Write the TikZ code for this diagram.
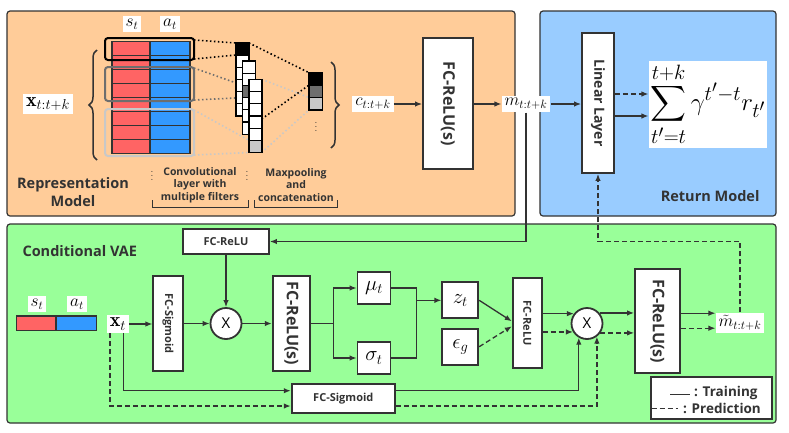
\documentclass[tikz,border=0pt]{standalone}
\usepackage{exscale}
\usepackage{fontspec}
\setsansfont{Open Sans}
\usepackage{graphicx}
\usetikzlibrary{arrows.meta,decorations.pathreplacing}

\definecolor{repbg}{HTML}{FFCC99}
\definecolor{retbg}{HTML}{99CCFF}
\definecolor{vaebg}{HTML}{99FF99}
\definecolor{sred}{HTML}{FF6464}
\definecolor{ablue}{HTML}{3399FF}
\definecolor{ink}{HTML}{333333}
\definecolor{midgray}{HTML}{6E6E6E}
\definecolor{lightgray2}{HTML}{C8C8C8}

\tikzset{
  panel/.style={draw=ink, line width=1.2pt, rounded corners=3pt},
  layer/.style={draw=ink, fill=white, line width=1.8pt, inner sep=0pt, text=ink,
    font=\sffamily\bfseries\fontsize{16}{18}\selectfont},
  smalllayer/.style={layer, font=\sffamily\bfseries\fontsize{11}{13}\selectfont},
  varbox/.style={draw=ink, fill=white, line width=1.8pt, inner sep=0pt,
    minimum width=33pt, minimum height=32pt, font=\fontsize{20}{22}\selectfont},
  mathlabel/.style={fill=white, inner sep=3pt, font=\fontsize{18}{20}\selectfont},
  title/.style={text=ink, font=\sffamily\bfseries\fontsize{14.5}{18}\selectfont},
  note/.style={text=ink, align=center, font=\sffamily\bfseries\fontsize{10.5}{12.5}\selectfont},
  mult/.style={circle, draw=ink, fill=white, line width=1.8pt, minimum size=31pt,
    inner sep=0pt, font=\sffamily\fontsize{15}{15}\selectfont},
  wire/.style={draw=ink, line width=1.3pt},
  conn/.style={wire, ->},
  predline/.style={wire, dash pattern=on 5pt off 3pt},
  pred/.style={predline, ->},
  cellline/.style={draw=ink, line width=1.2pt},
  cell/.style={draw=black, fill=white, line width=1.2pt},
  window/.style={line width=2pt, rounded corners=3pt},
  dotlink/.style={line width=1.6pt, dash pattern=on 1.5pt off 2.5pt},
}

\begin{document}
\begin{tikzpicture}[x=1pt, y=-1pt, >={Latex[length=7pt,width=5.5pt]}]
  \useasboundingbox (0,0) rectangle (789,432);

  % Panels
  \draw[panel, fill=repbg] (7,11) rectangle (515,216);
  \draw[panel, fill=retbg] (540,11) rectangle (776,216);
  \draw[panel, fill=vaebg] (7,224) rectangle (776,423);

  % Representation model: input sequence
  \foreach \i in {0,...,7} {
    \draw[cellline, fill=sred] (112,41.5+14*\i) rectangle (150,55.5+14*\i);
    \draw[cellline, fill=ablue] (150,41.5+14*\i) rectangle (190,55.5+14*\i);
  }
  \node[mathlabel] (stop) at (132,24) {$s_t$};
  \node[mathlabel] (atop) at (170,24) {$a_t$};

  % Filter windows
  \draw[window, draw=black] (105,38) rectangle (194,60);
  \draw[window, draw=midgray] (105,67) rectangle (194,101);
  \draw[window, draw=lightgray2] (105,109) rectangle (194,156);

  % Dotted links (behind the feature maps)
  \draw[dotlink, black] (194,40) -- (236,43) (194,59) -- (236,55);
  \draw[dotlink, black] (249,43) -- (309,72.7) (261.7,119) -- (309,85.1);
  \draw[dotlink, midgray] (194,68) -- (243,85.4) (194,100) -- (243,97.6);
  \draw[dotlink, lightgray2] (194,110) -- (249,140.3) (194,155) -- (249,152.5);
  \draw[dotlink, lightgray2] (261.7,79.3) -- (309,97.5) (261.7,152.5) -- (309,109.9);

  % Feature maps, one column per filter
  \foreach \k/\hot/\shade in {0/0/black, 1/2/midgray, 2/5/lightgray2} {
    \foreach \j in {0,...,5}
      \draw[cell] ({236+6.5*\k},{42.7+18.3*\k+12.2*\j}) rectangle ++(13,12.2);
    \draw[cell, fill=\shade] ({236+6.5*\k},{42.7+18.3*\k+12.2*\hot}) rectangle ++(13,12.2);
  }

  % Max pooling output
  \foreach \j/\shade in {0/black, 1/midgray, 2/lightgray2}
    \draw[cell, fill=\shade] (309,{72.7+12.4*\j}) rectangle ++(13.3,12.4);
  \node[text=ink, inner sep=0pt] (pooldots) at (316,124) {$\vdots$};

  % Braces
  \draw[wire, line width=1.5pt, decorate, decoration={brace, amplitude=8pt}] (97,160) -- (97,50);
  \draw[wire, line width=1.5pt, decorate, decoration={brace, amplitude=8pt}] (331,62) -- (331,148);
  \node[mathlabel, font=\fontsize{20}{22}\selectfont] (xseq) at (48,104) {$\mathbf{x}_{t:t+k}$};
  \node[mathlabel] (clab) at (373,104) {$c_{t:t+k}$};

  % Notes under the convolution
  \node[note] (convnote) at (200,185) {Convolutional\\layer with\\multiple filters};
  \node[note] (poolnote) at (296,185) {Maxpooling\\and\\concatenation};
  \node[text=ink, inner sep=0pt] (convdots) at (152,173) {$\vdots$};
  \node[text=ink, inner sep=0pt] (pooldiv) at (247,173) {$\vdots$};
  \draw[wire, line width=1pt] (152,200) |- (248,207) -- (248,200);
  \draw[wire, line width=1pt] (254,200) |- (337,207) -- (337,200);
  \node[title, align=center] (reptitle) at (73,192) {Representation\\Model};

  % Representation and return model layers
  \node[layer, minimum width=50pt, minimum height=131pt] (fcrtop) at (448,103.5) {\rotatebox{-90}{FC-ReLU(s)}};
  \node[mathlabel] (mlab) at (526,104) {$m_{t:t+k}$};
  \node[layer, font=\sffamily\bfseries\fontsize{14}{16}\selectfont, minimum width=32pt, minimum height=140pt] (lin) at (598,103) {\rotatebox{-90}{Linear Layer}};
  \node[fill=white, inner sep=2pt, font=\fontsize{24.88}{28}\selectfont] (ret) at (708,104.5) {$\displaystyle\sum_{t'=t}^{t+k}\gamma^{t'-t}r_{t'}$};
  \node[title, anchor=east] (rettitle) at (763,196) {Return Model};

  \draw[conn] (clab.east) -- (clab.east -| fcrtop.west);
  \draw[conn] (fcrtop.east |- mlab) -- (mlab.west);
  \draw[conn] (mlab.east) -- (mlab.east -| lin.west);
  \draw[pred] ([yshift=10.5pt]ret.west -| lin.east) -- ([yshift=10.5pt]ret.west);
  \draw[conn] ([yshift=-11.5pt]ret.west -| lin.east) -- ([yshift=-11.5pt]ret.west);

  % Conditional VAE
  \node[title, anchor=west] (vaetitle) at (19,251) {Conditional VAE};
  \draw[cellline, fill=sred] (16.7,316) rectangle (56,330.5);
  \draw[cellline, fill=ablue] (56,316) rectangle (96.7,330.5);
  \node[mathlabel] (sin) at (37,304) {$s_t$};
  \node[mathlabel] (ain) at (77,304) {$a_t$};
  \node[mathlabel, font=\fontsize{20}{22}\selectfont] (xt) at (118,324) {$\mathbf{x}_t$};

  \node[smalllayer, minimum width=86pt, minimum height=25pt] (fcrelu) at (226,241.5) {FC-ReLU};
  \node[smalllayer, minimum width=29.4pt, minimum height=95pt] (fcsig) at (168,323.5) {\rotatebox{-90}{FC-Sigmoid}};
  \node[mult] (mulin) at (226,323.5) {X};
  \node[layer, minimum width=37.3pt, minimum height=95.3pt] (encoder) at (291.3,323.3) {\rotatebox{-90}{FC-ReLU(s)}};
  \node[varbox] (mu) at (374,288) {$\mu_t$};
  \node[varbox] (sigma) at (374,358) {$\sigma_t$};
  \node[varbox, minimum width=36pt, minimum height=36pt] (z) at (460.3,300.3) {$z_t$};
  \node[varbox, minimum width=36pt, minimum height=36pt] (eps) at (460.3,346.7) {$\epsilon_g$};
  \node[smalllayer, minimum width=29pt, minimum height=90pt] (decoder) at (527.2,323.3) {\rotatebox{-90}{FC-ReLU}};
  \node[mult] (mulout) at (587,323.5) {X};
  \node[layer, minimum width=45pt, minimum height=104.3pt] (outlayer) at (657.5,321.2) {\rotatebox{-90}{FC-ReLU(s)}};
  \node[mathlabel] (mtil) at (740,323) {$\tilde{m}_{t:t+k}$};
  \node[smalllayer, minimum width=103.3pt, minimum height=28.4pt] (fcsigb) at (343.3,398.5) {FC-Sigmoid};

  % VAE connections
  \draw[conn] (xt.east) -- (xt.east -| fcsig.west);
  \draw[conn] (fcsig.east) -- (mulin.west);
  \draw[conn] (fcrelu.south) -- (mulin.north);
  \draw[conn] (mulin.east) -- (mulin.east -| encoder.west);
  \coordinate (split) at (333.3,323.3);
  \draw[wire] (encoder.east) -- (split);
  \draw[conn] (split) |- (mu.west);
  \draw[conn] (split) |- (sigma.west);
  \coordinate (merge) at (416.7,300.3);
  \draw[wire] (mu.east) -| (merge) |- (sigma.east);
  \draw[conn] (merge) -- (z.west);
  \draw[conn] (z.east) -- ([yshift=2pt]decoder.west);
  \draw[pred] (eps.east) -- ([yshift=-3pt]decoder.west);
  \draw[conn] (decoder.east |- mulout.143) -- (mulout.143);
  \draw[pred] (decoder.east |- mulout.211) -- (mulout.211);
  \draw[conn] (mulout.40) -- (mulout.40 -| outlayer.west);
  \draw[pred] (mulout.-35) -- (mulout.-35 -| outlayer.west);
  \draw[conn] ([yshift=8pt]outlayer.east) -- ([yshift=8pt]outlayer.east -| mtil.west);
  \draw[pred] ([yshift=-7pt]outlayer.east) -- ([yshift=-7pt]outlayer.east -| mtil.west);
  \draw[conn] ([xshift=5.3pt]xt.south) |- ([yshift=7.8pt]fcsigb.west);
  \draw[pred] ([xshift=-8pt]xt.south) |- ([yshift=-7.5pt]fcsigb.west);
  \draw[conn] ([yshift=7.8pt]fcsigb.east) -| (mulout.240);
  \draw[pred] ([yshift=-7.5pt]fcsigb.east) -| (mulout.307);

  % Links between the models
  \draw[conn] (mlab.south) |- (fcrelu.east);
  \draw[pred] (mtil.north) |- (lin.south |- fcrelu.east) -- (lin.south);

  % Legend
  \node[draw=ink, fill=white, line width=1.8pt, minimum width=121pt, minimum height=42.6pt] (legend) at (711.5,398) {};
  \draw[wire] (670,394.3) -- (690,394.3);
  \draw[predline] (651.7,408.3) -- (678.3,408.3);
  \node[text=ink, anchor=west, inner sep=1pt, font=\sffamily\bfseries\fontsize{13.5}{15}\selectfont] (train) at (693,393) {: Training};
  \node[text=ink, anchor=west, inner sep=1pt, font=\sffamily\bfseries\fontsize{13.5}{15}\selectfont] (predict) at (682,408.5) {: Prediction};
\end{tikzpicture}
\end{document}
